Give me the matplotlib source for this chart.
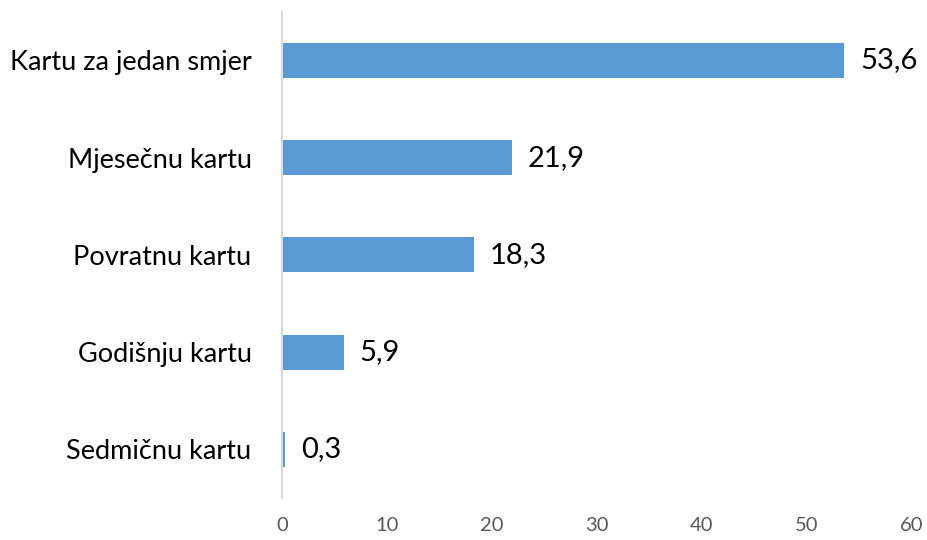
import matplotlib.pyplot as plt

# Data (top to bottom in the chart)
categories = ["Kartu za jedan smjer", "Mjesečnu kartu", "Povratnu kartu",
              "Godišnju kartu", "Sedmičnu kartu"]
values = [53.6, 21.9, 18.3, 5.9, 0.3]
x_ticks = [0, 10, 20, 30, 40, 50, 60]

plt.rcParams['font.family'] = ['Lato', 'DejaVu Sans']

fig = plt.figure(figsize=(9.28, 5.4), dpi=100)
ax = fig.add_axes([0.304, 0.078, 0.678, 0.900])

ypos = list(range(len(categories)))[::-1]
ax.barh(ypos, values, height=0.36, color='#5B9BD5')

for y, v in zip(ypos, values):
    ax.text(v + 1.5, y, f"{v:.1f}".replace('.', ','), va='center', ha='left',
            fontsize=21, color='black')

ax.set_xlim(0, 60)
ax.set_ylim(-0.5, 4.5)
ax.set_xticks(x_ticks)
ax.set_xticklabels([str(t) for t in x_ticks], fontsize=14.5, color='#595959')
ax.set_yticks(ypos)
ax.set_yticklabels(categories, fontsize=19.5, color='black')
ax.tick_params(axis='both', length=0)
ax.tick_params(axis='x', pad=14)
ax.tick_params(axis='y', pad=22)

for s in ['top', 'right', 'bottom']:
    ax.spines[s].set_visible(False)
ax.spines['left'].set_color('#D9D9D9')
ax.spines['left'].set_linewidth(1.5)

fig.savefig('out.png', dpi=100)
